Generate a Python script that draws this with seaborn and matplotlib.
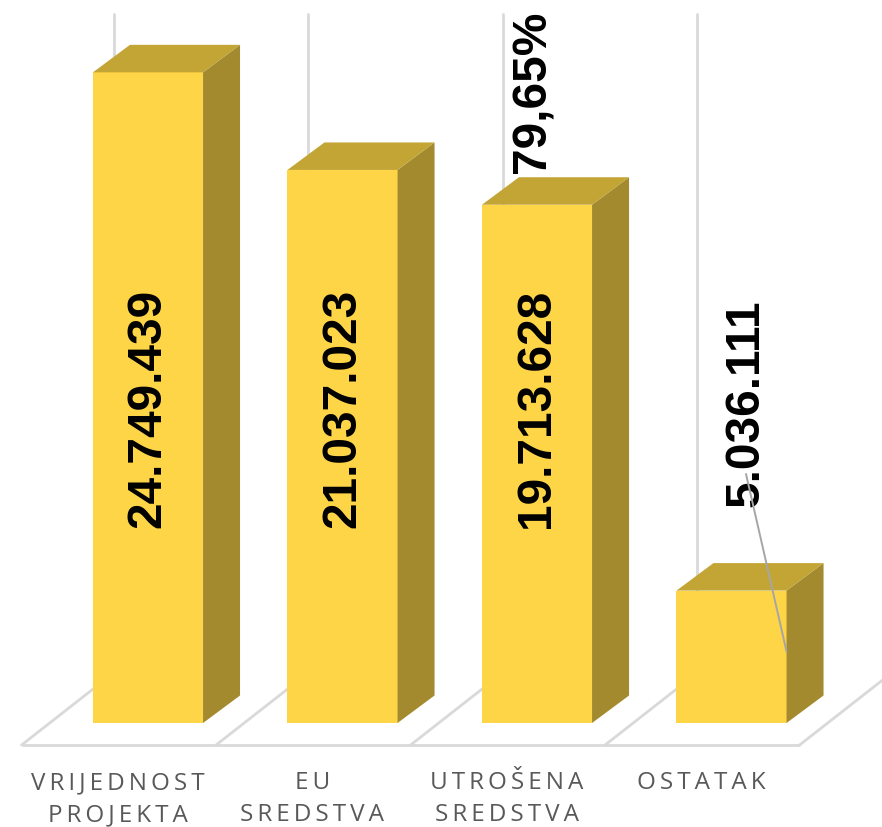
import matplotlib
matplotlib.use("Agg")
import matplotlib.pyplot as plt
import matplotlib.transforms as mtransforms
from matplotlib.patches import Polygon
import seaborn as sns
import pandas as pd

# ---- data ----
categories = ["VRIJEDNOST\nPROJEKTA", "EU\nSREDSTVA", "UTROŠENA\nSREDSTVA", "OSTATAK"]
values = [24749439, 21037023, 19713628, 5036111]
value_labels = ["24.749.439", "21.037.023", "19.713.628", "5.036.111"]

# ---- style ----
FRONT = "#FED547"
TOP = "#C3A536"
SIDE = "#A48A2E"
GRID = "#D9D9D9"
W, H, DPI = 882, 828, 100

sns.set_theme(style="white")
plt.rcParams["font.family"] = ["Liberation Sans", "DejaVu Sans"]

fig = plt.figure(figsize=(W / DPI, H / DPI), dpi=DPI)
ax = fig.add_axes([0, 0, 1, 1])

df = pd.DataFrame({"cat": categories, "val": values})
sns.barplot(data=df, x="cat", y="val", color=FRONT, saturation=1,
            width=0.566, errorbar=None, ax=ax, zorder=3, linewidth=0)

# pixel-like scale
px_per_unit = 194.5
px_per_val = 26.29 / 1e6
base_px = 724  # from top
xmin = -148 / px_per_unit
ax.set_xlim(xmin, xmin + W / px_per_unit)
ymin = -(H - base_px) / px_per_val
ymax = base_px / px_per_val
ax.set_ylim(ymin, ymax)
ax.axis("off")

def yv(py):
    return (base_px - py) / px_per_val

def xv(px):
    return (px - 148) / px_per_unit

dx = 37 / px_per_unit
dy = 27.5 / px_per_val

# floor + grid
n = len(categories)
fdx = 92 / px_per_unit
fdy = 72 / px_per_val
floor_y = yv(746)
divs = [i - 0.65 for i in range(n + 1)]
ax.plot([divs[0], divs[-1]], [floor_y, floor_y], color=GRID, lw=2, zorder=1,
        solid_capstyle="butt")
for d in divs:
    ax.plot([d, d + fdx], [floor_y, floor_y + fdy], color=GRID, lw=2, zorder=1)
    ax.plot([d + fdx, d + fdx], [floor_y + fdy, yv(15)], color=GRID, lw=2, zorder=1)

# 3D faces
bars = sorted(ax.patches, key=lambda p: p.get_x())
for p in bars:
    x, w, h = p.get_x(), p.get_width(), p.get_height()
    xr = x + w
    side = Polygon([(xr, 0), (xr + dx, dy), (xr + dx, h + dy), (xr, h)],
                   closed=True, facecolor=SIDE, edgecolor="none", zorder=3)
    top = Polygon([(x, h), (x + dx, h + dy), (xr + dx, h + dy), (xr, h)],
                  closed=True, facecolor=TOP, edgecolor="none", zorder=3)
    ax.add_patch(side)
    ax.add_patch(top)

# value labels
lab_font = dict(fontsize=34.5, fontweight="bold", color="black", rotation=90,
                ha="center", va="bottom", family=["Liberation Sans", "DejaVu Sans"],
                zorder=5)
for i, p in enumerate(bars[:3]):
    cx = p.get_x() + p.get_width() / 2
    ax.text(cx, yv(528), value_labels[i], **lab_font)

# last label with leader line
p4 = bars[3]
ax.text(xv(746), yv(507), value_labels[3], **lab_font)
ax.plot([xv(746), p4.get_x() + p4.get_width()], [yv(475), p4.get_height() * 0.54],
        color="#A6A6A6", lw=1.4, zorder=6)

# percent label above third bar
pct = values[2] / values[0] * 100
pct_text = f"{pct:.2f}%".replace(".", ",")
ax.text(xv(533), yv(173), pct_text, **lab_font)

# category labels with letter spacing
def spaced(s):
    return "\n".join("\u2009".join(list(line)) for line in s.split("\n"))

trans = mtransforms.blended_transform_factory(ax.transData, ax.transAxes)
for i, c in enumerate(categories):
    ax.text(i - 0.155, 1 - 771 / H, spaced(c), transform=trans, ha="center", va="top",
            fontsize=17.5, color="#595959", linespacing=1.45,
            family=["Open Sans", "DejaVu Sans"])

fig.savefig("out.png", dpi=DPI)
